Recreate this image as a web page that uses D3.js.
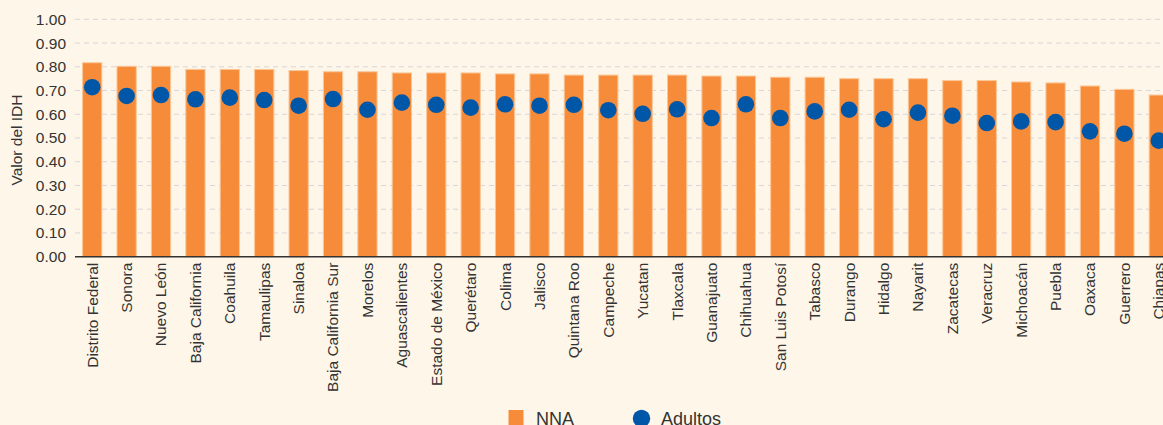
<!DOCTYPE html>
<html>
<head>
<meta charset="utf-8">
<script src="https://cdn.jsdelivr.net/npm/d3@7"></script>
<style>
    body { margin: 0; background: #fef6e8; }
    svg { display: block; font-family: "Liberation Sans", Arial, sans-serif; }
    .grid line { stroke: #d9d5da; stroke-dasharray: 5 4; }
</style>
</head>
<body>
<div id="chart"></div>
<script>
const width = 1163;
const height = 425;

// States, sorted by NNA index
const states = ["Distrito Federal", "Sonora", "Nuevo León", "Baja California", "Coahuila",
    "Tamaulipas", "Sinaloa", "Baja California Sur", "Morelos", "Aguascalientes",
    "Estado de México", "Querétaro", "Colima", "Jalisco", "Quintana Roo", "Campeche",
    "Yucatan", "Tlaxcala", "Guanajuato", "Chihuahua", "San Luis Potosí", "Tabasco",
    "Durango", "Hidalgo", "Nayarit", "Zacatecas", "Veracruz", "Michoacán", "Puebla",
    "Oaxaca", "Guerrero", "Chiapas"];

// IDH for children and adolescents (bars)
const nna = [0.817, 0.802, 0.802, 0.789, 0.789, 0.789, 0.784, 0.779, 0.779, 0.774,
    0.774, 0.774, 0.770, 0.770, 0.765, 0.765, 0.765, 0.765, 0.761, 0.761, 0.756, 0.756,
    0.750, 0.750, 0.750, 0.742, 0.742, 0.736, 0.732, 0.719, 0.705, 0.681];

// IDH for adults (dots)
const adultos = [0.714, 0.677, 0.681, 0.663, 0.670, 0.660, 0.636, 0.664, 0.619, 0.649,
    0.640, 0.628, 0.642, 0.636, 0.640, 0.617, 0.602, 0.621, 0.584, 0.642, 0.584, 0.612,
    0.619, 0.579, 0.607, 0.594, 0.563, 0.570, 0.567, 0.528, 0.518, 0.489];

const yTicks = [0, 0.1, 0.2, 0.3, 0.4, 0.5, 0.6, 0.7, 0.8, 0.9, 1.0];

const orange = "#f68b3a";
const blue = "#0057a8";

const svg = d3.select("#chart")
    .append("svg")
    .attr("width", width)
    .attr("height", height);

// scales (plot runs past the right edge, like the original)
const x = d3.scaleBand()
    .domain(states)
    .range([75, 1176])
    .paddingInner(0.44)
    .paddingOuter(0.22);

const y = d3.scaleLinear()
    .domain([0, 1])
    .range([256.7, 19.3]);

// gridlines
svg.append("g")
    .attr("class", "grid")
    .selectAll("line")
    .data(yTicks.slice(1))
    .enter()
    .append("line")
    .attr("x1", 75)
    .attr("x2", width)
    .attr("y1", d => y(d))
    .attr("y2", d => y(d));

// y axis labels
const yAxis = svg.append("g")
    .attr("transform", "translate(75,0)")
    .call(d3.axisLeft(y).tickValues(yTicks).tickFormat(d3.format(".2f")).tickSize(0).tickPadding(9));
yAxis.select(".domain").remove();
yAxis.selectAll("text")
    .style("font-size", "15.5px")
    .style("fill", "#333");

svg.append("text")
    .attr("transform", "translate(22,140) rotate(-90)")
    .attr("text-anchor", "middle")
    .style("font-size", "15.5px")
    .style("fill", "#333")
    .text("Valor del IDH");

// bars
svg.append("g")
    .selectAll("rect")
    .data(nna)
    .enter()
    .append("rect")
    .attr("x", (d, i) => x(states[i]))
    .attr("y", d => y(d))
    .attr("width", x.bandwidth())
    .attr("height", d => y(0) - y(d))
    .style("fill", orange)
    .style("stroke", "#fbc797")
    .style("stroke-width", 1);

// adult dots
svg.append("g")
    .selectAll("circle")
    .data(adultos)
    .enter()
    .append("circle")
    .attr("cx", (d, i) => x(states[i]) + x.bandwidth() / 2)
    .attr("cy", d => y(d))
    .attr("r", 8.3)
    .style("fill", blue);

// x axis
const xAxis = svg.append("g")
    .attr("transform", `translate(0,${y(0)})`)
    .call(d3.axisBottom(x).tickSize(0).tickPadding(6));
xAxis.select(".domain")
    .attr("d", `M75,0H${width}`)
    .style("stroke", "#333")
    .style("stroke-width", 1.5);
xAxis.selectAll("text")
    .attr("transform", "rotate(-90)")
    .attr("text-anchor", "end")
    .attr("x", -6)
    .attr("y", 0)
    .attr("dy", "0.35em")
    .style("font-size", "15.5px")
    .style("fill", "#333");

// legend
const legend = svg.append("g");
legend.append("rect")
    .attr("x", 508.5)
    .attr("y", 410)
    .attr("width", 15)
    .attr("height", 15)
    .style("fill", orange);
legend.append("text")
    .attr("x", 536)
    .attr("y", 425)
    .style("font-size", "18px")
    .style("fill", "#333")
    .text("NNA");
legend.append("circle")
    .attr("cx", 641.5)
    .attr("cy", 418.5)
    .attr("r", 8.7)
    .style("fill", blue);
legend.append("text")
    .attr("x", 661)
    .attr("y", 425)
    .style("font-size", "18px")
    .style("fill", "#333")
    .text("Adultos");
</script>
</body>
</html>
